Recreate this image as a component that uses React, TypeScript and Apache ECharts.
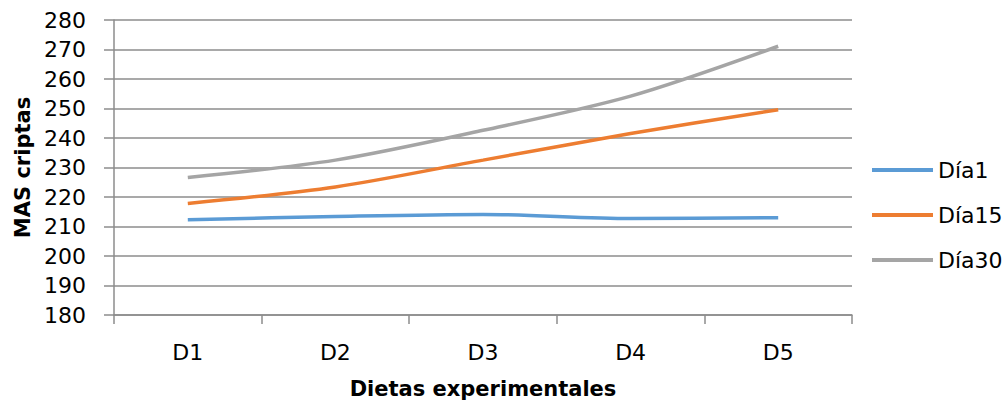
import React, { useEffect, useRef } from "react";
import * as echarts from "echarts";

const categories = ["D1", "D2", "D3", "D4", "D5"];
const dia1 = [212.3, 213.4, 214.1, 212.7, 213.0];
const dia15 = [217.8, 223.4, 232.5, 241.5, 249.6];
const dia30 = [226.6, 232.5, 242.6, 254.2, 271.1];
const seriesNames = ["Día1", "Día15", "Día30"];
const colors = ["#5B9BD5", "#ED7D31", "#A5A5A5"];

const FONT = "DejaVu Sans";
const GRID = "#8c8c8c";

export default function App() {
  const ref = useRef<HTMLDivElement>(null);
  useEffect(() => {
    if (!ref.current) return;
    const chart = echarts.init(ref.current, undefined, { renderer: "svg" });
    const data = [dia1, dia15, dia30];
    chart.setOption({
      animation: false,
      backgroundColor: "#ffffff",
      textStyle: { fontFamily: FONT },
      grid: { left: 114, right: 154, top: 20, bottom: 95, containLabel: false },
      legend: {
        orient: "vertical",
        left: 867,
        top: 154,
        icon: "rect",
        itemWidth: 61,
        itemHeight: 4,
        itemGap: 23,
        textStyle: { fontFamily: FONT, fontSize: 22, color: "#000" },
        data: seriesNames,
      },
      xAxis: {
        type: "category",
        data: categories,
        boundaryGap: true,
        axisLine: { show: true, lineStyle: { color: GRID, width: 1.5 } },
        axisTick: { show: true, length: 9, lineStyle: { color: GRID, width: 1.5 } },
        axisLabel: { margin: 26, fontFamily: FONT, fontSize: 22, color: "#000" },
        name: "Dietas experimentales",
        nameLocation: "middle",
        nameGap: 63,
        nameTextStyle: { fontFamily: FONT, fontSize: 21, fontWeight: "bold", color: "#000" },
      },
      yAxis: {
        type: "value",
        min: 180,
        max: 280,
        interval: 10,
        axisLine: { show: true, lineStyle: { color: GRID, width: 1.5 } },
        axisTick: { show: true, length: 10, lineStyle: { color: GRID, width: 1.5 } },
        axisLabel: { margin: 28, fontFamily: FONT, fontSize: 22, color: "#000" },
        splitLine: { show: true, lineStyle: { color: GRID, width: 1.5 } },
        name: "MAS criptas",
        nameLocation: "middle",
        nameGap: 81,
        nameRotate: 90,
        nameTextStyle: { fontFamily: FONT, fontSize: 21, fontWeight: "bold", color: "#000" },
      },
      series: seriesNames.map((n, i) => ({
        name: n,
        type: "line",
        data: data[i],
        smooth: 0.3,
        symbol: "none",
        lineStyle: { color: colors[i], width: 3.5 },
        itemStyle: { color: colors[i] },
      })),
    });
    return () => chart.dispose();
  }, []);
  return (
    <div
      ref={ref}
      style={{ position: "fixed", left: 0, top: 0, width: 1006, height: 410 }}
    />
  );
}
